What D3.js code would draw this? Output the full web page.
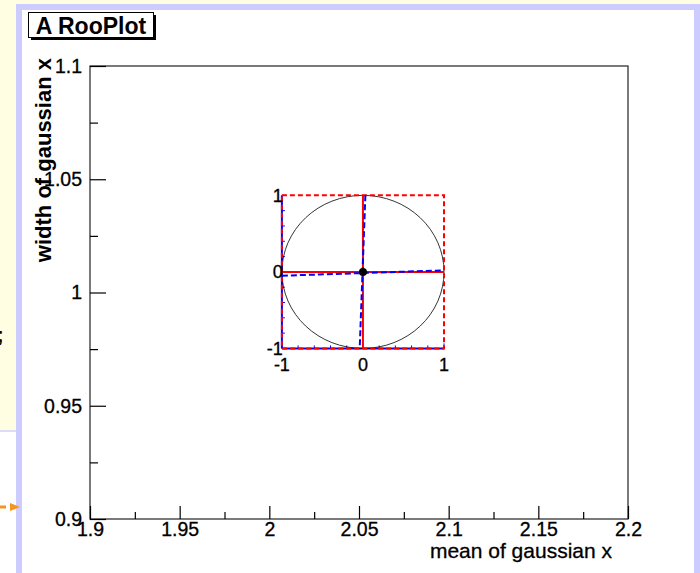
<!DOCTYPE html>
<html><head><meta charset="utf-8">
<script src="https://cdn.jsdelivr.net/npm/d3@7"></script>
<style>body{margin:0;background:#fff;overflow:hidden}svg{display:block}text{font-family:"Liberation Sans",Arial,sans-serif}</style>
</head><body><svg id="c" width="700" height="573"></svg>
<script>
// ---- data ----
const xMajorTicks = [1.9, 1.95, 2.0, 2.05, 2.1, 2.15, 2.2];
const xTickLabels = ["1.9", "1.95", "2", "2.05", "2.1", "2.15", "2.2"];
const xMinorTicks = [1.925, 1.975, 2.025, 2.075, 2.125, 2.175];
const yMajorTicks = [0.9, 0.95, 1.0, 1.05, 1.1];
const yTickLabels = ["0.9", "0.95", "1", "1.05", "1.1"];
const yMinorTicks = [0.925, 0.975, 1.025, 1.075];
const xDomain = [1.9, 2.2];
const yDomain = [0.9, 1.1];
const fitMean = [2.0522, 0.0452];   // value, error
const fitWidth = [1.0091, 0.0338];  // value, error
const insetTicks = [-1, 0, 1];
const insetTickLabels = ["-1", "0", "1"];
const insetMinorTicks = [-0.8, -0.6, -0.4, -0.2, 0.2, 0.4, 0.6, 0.8];
// principal axes endpoints (normalized units)
const axisA = [[-1, -0.05], [1, 0.02]];
const axisB = [[0.03, 1], [-0.04, -1]];
const titleText = "A RooPlot";
const xTitle = "mean of gaussian x";
const yTitle = "width of gaussian x";

const svg = d3.select("#c");
// ---- page background ----
svg.append("rect").attr("x",0).attr("y",0).attr("width",700).attr("height",5).attr("fill","#fffde2");
svg.append("rect").attr("x",0).attr("y",0).attr("width",17).attr("height",430).attr("fill","#fffde2");
svg.append("rect").attr("x",0).attr("y",430).attr("width",17).attr("height",2).attr("fill","#dcdcf8");
svg.append("rect").attr("x",16).attr("y",4).attr("width",684).attr("height",569).attr("fill","#ccccff");
svg.append("rect").attr("x",22).attr("y",10).attr("width",672).attr("height",563).attr("fill","#ffffff");
svg.append("text").attr("x",-3).attr("y",342).attr("font-size",20).attr("font-weight","bold").text(";");
// orange arrow
svg.append("line").attr("x1",0).attr("x2",6).attr("y1",507).attr("y2",507).attr("stroke","#f7941d").attr("stroke-width",3);
svg.append("path").attr("d","M10,503L20,507L10,511Z").attr("fill","#f7941d");

// ---- scales ----
const L=90, R=628, T=66, B=519;
const x = d3.scaleLinear().domain(xDomain).range([L,R]);
const y = d3.scaleLinear().domain(yDomain).range([B,T]);

// frame
svg.append("rect").attr("x",L).attr("y",T).attr("width",R-L).attr("height",B-T)
  .attr("fill","none").attr("stroke","#222").attr("stroke-width",1.2);

// axes
const fs = 19.5;
const gx = svg.append("g").attr("transform",`translate(0,${B})`)
  .call(d3.axisBottom(x).tickValues(xMajorTicks).tickSize(-13).tickPadding(3)
    .tickFormat((d,i)=>xTickLabels[i]));
gx.append("g").call(d3.axisBottom(x).tickValues(xMinorTicks).tickSize(-7).tickFormat(""));
const gy = svg.append("g").attr("transform",`translate(${L},0)`)
  .call(d3.axisLeft(y).tickValues(yMajorTicks).tickSize(-16).tickPadding(8)
    .tickFormat((d,i)=>yTickLabels[i]));
gy.append("g").call(d3.axisLeft(y).tickValues(yMinorTicks).tickSize(-8).tickFormat(""));
svg.selectAll(".domain").remove();
svg.selectAll(".tick line").attr("stroke","#000").attr("stroke-width",1.2);
svg.selectAll(".tick text").attr("font-size",fs).attr("fill","#000")
  .attr("stroke","#000").attr("stroke-width",0.3)
  .attr("font-family","'Liberation Sans',Arial,sans-serif");

// axis titles
svg.append("text").attr("x",612).attr("y",558).attr("text-anchor","end")
  .attr("font-size",21).attr("stroke","#000").attr("stroke-width",0.3).text(xTitle);
svg.append("text").attr("transform","translate(51,58) rotate(-90)").attr("text-anchor","end")
  .attr("font-size",22).attr("font-weight","bold").text(yTitle);

// title box
svg.append("rect").attr("x",31).attr("y",15).attr("width",125).attr("height",25).attr("fill","#000");
svg.append("rect").attr("x",28.5).attr("y",12.5).attr("width",125).attr("height",25)
  .attr("fill","#fff").attr("stroke","#000");
svg.append("text").attr("x",91).attr("y",33.5).attr("text-anchor","middle")
  .attr("font-size",23).attr("font-weight","bold").text(titleText);

// ---- fit result inset ----
const u = d3.scaleLinear().domain([-1,1]).range([x(fitMean[0]-fitMean[1]), x(fitMean[0]+fitMean[1])]);
const v = d3.scaleLinear().domain([-1,1]).range([y(fitWidth[0]-fitWidth[1]), y(fitWidth[0]+fitWidth[1])]);
const ins = svg.append("g");
// blue axes
ins.append("line").attr("x1",u(-1)).attr("x2",u(-1)).attr("y1",v(-1)).attr("y2",v(1)).attr("stroke","#0000ff").attr("stroke-width",2);
ins.append("line").attr("x1",u(-1)).attr("x2",u(1)).attr("y1",v(-1)).attr("y2",v(-1)).attr("stroke","#0000ff").attr("stroke-width",2);
insetMinorTicks.concat(insetTicks).forEach(t=>{
  const len = insetTicks.includes(t)?5:3;
  ins.append("line").attr("x1",u(-1)).attr("x2",u(-1)+len).attr("y1",v(t)).attr("y2",v(t)).attr("stroke","#0000ff");
  ins.append("line").attr("x1",u(t)).attr("x2",u(t)).attr("y1",v(-1)).attr("y2",v(-1)-len).attr("stroke","#0000ff");
});
// ellipse
ins.append("ellipse").attr("cx",u(0)).attr("cy",v(0))
  .attr("rx",u(1)-u(0)).attr("ry",v(-1)-v(0))
  .attr("fill","none").attr("stroke","#000").attr("stroke-width",0.8);
// red dashed box
ins.append("rect").attr("x",u(-1)).attr("y",v(1)).attr("width",u(1)-u(-1)).attr("height",v(-1)-v(1))
  .attr("fill","none").attr("stroke","#ff0000").attr("stroke-width",2).attr("stroke-dasharray","5,3");
// red error bars
ins.append("line").attr("x1",u(0)).attr("x2",u(0)).attr("y1",v(-1)).attr("y2",v(1)).attr("stroke","#ff0000").attr("stroke-width",2);
ins.append("line").attr("x1",u(-1)).attr("x2",u(1)).attr("y1",v(0)).attr("y2",v(0)).attr("stroke","#ff0000").attr("stroke-width",2);
// blue dashed principal axes
[axisA, axisB].forEach(a=>{
  ins.append("line").attr("x1",u(a[0][0])).attr("y1",v(a[0][1])).attr("x2",u(a[1][0])).attr("y2",v(a[1][1]))
    .attr("stroke","#0000ff").attr("stroke-width",2).attr("stroke-dasharray","6,3");
});
// central point
ins.append("circle").attr("cx",x(fitMean[0])).attr("cy",y(fitWidth[0])).attr("r",4).attr("fill","#000");
// inset labels
insetTicks.forEach((t,i)=>{
  ins.append("text").attr("x",u(-1)+1).attr("y",v(t)).attr("dy","0.36em").attr("text-anchor","end")
    .attr("font-size",18).attr("stroke","#000").attr("stroke-width",0.3).text(insetTickLabels[i]);
  ins.append("text").attr("x",u(t)).attr("y",v(-1)+23).attr("text-anchor","middle")
    .attr("font-size",18).attr("stroke","#000").attr("stroke-width",0.3).text(insetTickLabels[i]);
});
</script></body></html>
